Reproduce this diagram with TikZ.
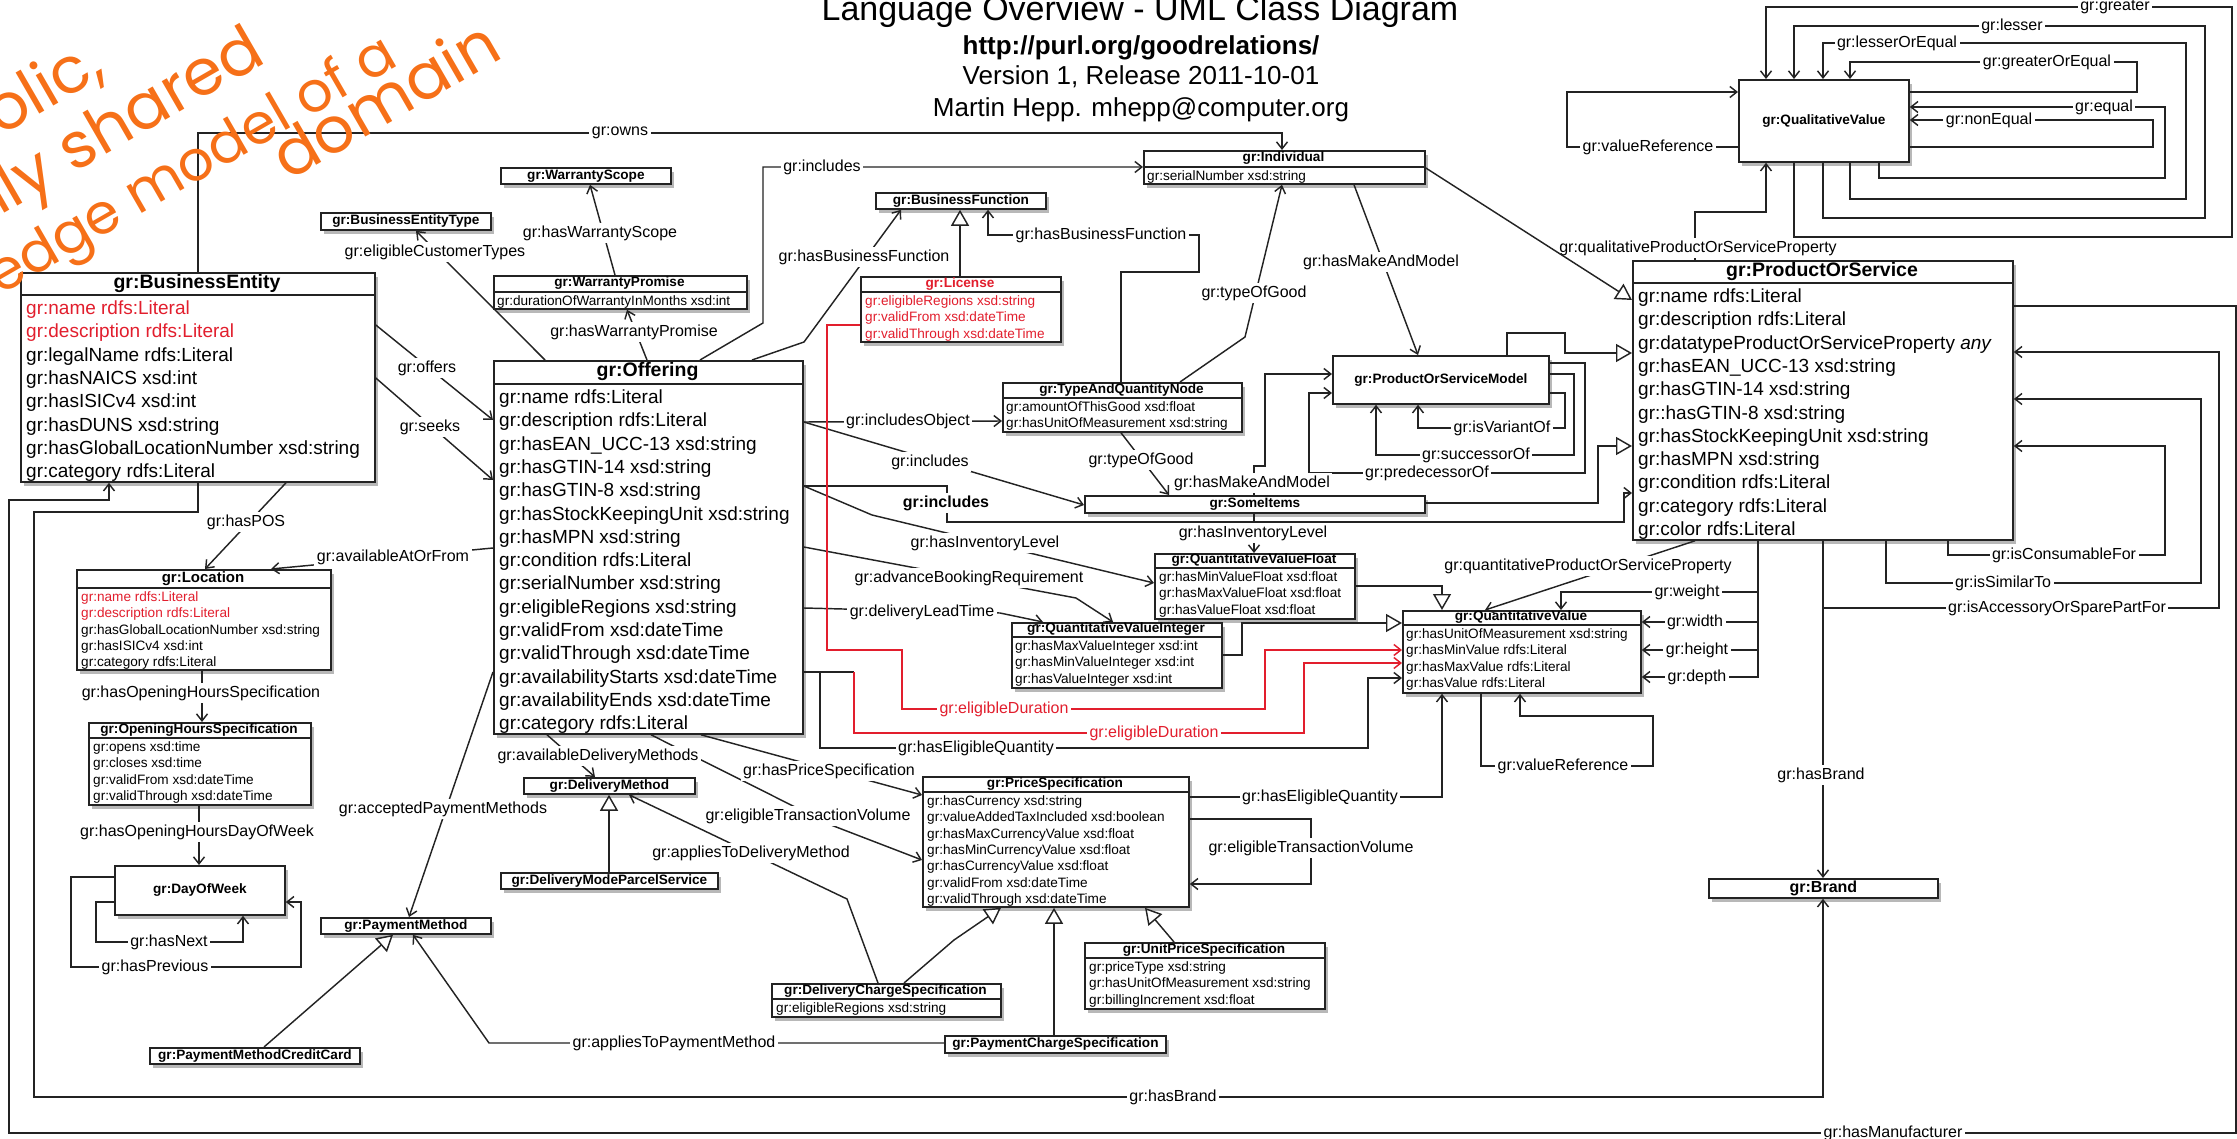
\documentclass[tikz,border=0pt]{standalone}
\usepackage{fontspec}
\setmainfont{Liberation Sans}
\newfontfamily\handfont{Poppins}
\usetikzlibrary{arrows.meta, shadows}
\definecolor{GrRed}{RGB}{226,30,45}
\definecolor{GrLine}{RGB}{35,35,35}
\definecolor{HandOrange}{RGB}{246,112,24}

\begin{document}
\begin{tikzpicture}[
  x=1pt, y=-1pt,
  box/.style={draw=GrLine, line width=1.8pt, fill=white, anchor=north west, inner sep=0pt,
    drop shadow={shadow xshift=3pt, shadow yshift=-4pt, fill=black, opacity=0.28}},
  ttl/.style={font=\bfseries\fontsize{13.6}{16}\selectfont},
  bigttl/.style={font=\bfseries\fontsize{19.5}{23}\selectfont, inner sep=0pt},
  attr/.style={font=\fontsize{13.6}{16.3}\selectfont, align=left, anchor=north west, inner sep=0pt},
  bigattr/.style={font=\fontsize{19}{23.3}\selectfont, align=left, anchor=north west, inner sep=0pt},
  sep/.style={draw=GrLine, line width=1.5pt},
  lbl/.style={fill=white, inner sep=2.5pt, font=\fontsize{16}{19}\selectfont},
  link/.style={draw=GrLine, line width=1.45pt},
  assoc/.style={link, -{Straight Barb[length=7pt, width=11pt]}},
  inherit/.style={link, -{Triangle[length=16pt, width=18pt, fill=white]}},
  redassoc/.style={assoc, draw=GrRed},
  hand/.style={anchor=base west, rotate=30, inner sep=0pt, text=HandOrange,
    font=\handfont\fontsize{64}{66}\selectfont},
]
\useasboundingbox (0,0) rectangle (2237,1139);

% Title
\node[font=\fontsize{34}{40}\selectfont, anchor=base] (title) at (1140,21) {Language Overview - UML Class Diagram};
\node[font=\bfseries\fontsize{26}{30}\selectfont, anchor=base] (url) at (1141,55) {http://purl.org/goodrelations/};
\node[font=\fontsize{26}{30}\selectfont, anchor=base] (version) at (1141,85) {Version 1, Release 2011-10-01};
\node[font=\fontsize{26}{30}\selectfont, anchor=base] (author) at (1141,117) {Martin Hepp. mhepp@computer.org};

% Big classes
\node[box, minimum width=354pt, minimum height=209pt] (be) at (20,272) {};
\node[bigttl] (be-t) at (197,283.5) {gr:BusinessEntity};
\draw[sep] (be.west |- 0,295) -- (be.east |- 0,295);
\node[bigattr] (be-a) at (26,298) {\strut\textcolor{GrRed}{gr:name rdfs:Literal}\\ \textcolor{GrRed}{gr:description rdfs:Literal}\\
  gr:legalName rdfs:Literal\\ gr:hasNAICS xsd:int\\ gr:hasISICv4 xsd:int\\ gr:hasDUNS xsd:string\\
  gr:hasGlobalLocationNumber xsd:string\\ gr:category rdfs:Literal};

\node[box, minimum width=309pt, minimum height=373pt] (off) at (493,360) {};
\node[bigttl] (off-t) at (647.5,372) {gr:Offering};
\draw[sep] (off.west |- 0,384) -- (off.east |- 0,384);
\node[bigattr] (off-a) at (499,387) {\strut gr:name rdfs:Literal\\ gr:description rdfs:Literal\\ gr:hasEAN\_UCC-13 xsd:string\\
  gr:hasGTIN-14 xsd:string\\ gr:hasGTIN-8 xsd:string\\ gr:hasStockKeepingUnit xsd:string\\ gr:hasMPN xsd:string\\
  gr:condition rdfs:Literal\\ gr:serialNumber xsd:string\\ gr:eligibleRegions xsd:string\\ gr:validFrom xsd:dateTime\\
  gr:validThrough xsd:dateTime\\ gr:availabilityStarts xsd:dateTime\\ gr:availabilityEnds xsd:dateTime\\ gr:category rdfs:Literal};

\node[box, minimum width=380pt, minimum height=279pt] (pos) at (1632,260) {};
\node[bigttl] (pos-t) at (1822,271.5) {gr:ProductOrService};
\draw[sep] (pos.west |- 0,283) -- (pos.east |- 0,283);
\node[bigattr] (pos-a) at (1638,286) {\strut gr:name rdfs:Literal\\ gr:description rdfs:Literal\\
  gr:datatypeProductOrServiceProperty \textit{any}\\ gr:hasEAN\_UCC-13 xsd:string\\ gr:hasGTIN-14 xsd:string\\
  gr::hasGTIN-8 xsd:string\\ gr:hasStockKeepingUnit xsd:string\\ gr:hasMPN xsd:string\\ gr:condition rdfs:Literal\\
  gr:category rdfs:Literal\\ gr:color rdfs:Literal};

% Small classes with attributes
\node[box, minimum width=281pt, minimum height=33pt] (ind) at (1143,150) {};
\node[ttl] (ind-t) at (1283.5,158.5) {gr:Individual};
\draw[sep] (ind.west |- 0,167) -- (ind.east |- 0,167);
\node[attr] (ind-a) at (1147,169) {\strut gr:serialNumber xsd:string};

\node[box, minimum width=253pt, minimum height=33pt] (wp) at (493,275) {};
\node[ttl] (wp-t) at (619.5,283.5) {gr:WarrantyPromise};
\draw[sep] (wp.west |- 0,292) -- (wp.east |- 0,292);
\node[attr] (wp-a) at (497,294) {\strut gr:durationOfWarrantyInMonths xsd:int};

\node[box, minimum width=200pt, minimum height=65pt] (lic) at (860,276) {};
\node[ttl, text=GrRed] (lic-t) at (960,284) {gr:License};
\draw[sep] (lic.west |- 0,292) -- (lic.east |- 0,292);
\node[attr, text=GrRed] (lic-a) at (865,294) {\strut gr:eligibleRegions xsd:string\\ gr:validFrom xsd:dateTime\\ gr:validThrough xsd:dateTime};

\node[box, minimum width=239pt, minimum height=49pt] (taqn) at (1002,382) {};
\node[ttl] (taqn-t) at (1121.5,390) {gr:TypeAndQuantityNode};
\draw[sep] (taqn.west |- 0,398) -- (taqn.east |- 0,398);
\node[attr] (taqn-a) at (1006,400) {\strut gr:amountOfThisGood xsd:float\\ gr:hasUnitOfMeasurement xsd:string};

\node[box, minimum width=200pt, minimum height=65pt] (qvf) at (1154,553) {};
\node[ttl] (qvf-t) at (1254,560.5) {gr:QuantitativeValueFloat};
\draw[sep] (qvf.west |- 0,568) -- (qvf.east |- 0,568);
\node[attr] (qvf-a) at (1159,570) {\strut gr:hasMinValueFloat xsd:float\\ gr:hasMaxValueFloat xsd:float\\ gr:hasValueFloat xsd:float};

\node[box, minimum width=210pt, minimum height=65pt] (qvi) at (1011,622) {};
\node[ttl] (qvi-t) at (1116,629.5) {gr:QuantitativeValueInteger};
\draw[sep] (qvi.west |- 0,637) -- (qvi.east |- 0,637);
\node[attr] (qvi-a) at (1015,639) {\strut gr:hasMaxValueInteger xsd:int\\ gr:hasMinValueInteger xsd:int\\ gr:hasValueInteger xsd:int};

\node[box, minimum width=238pt, minimum height=82pt] (qv) at (1402,610) {};
\node[ttl] (qv-t) at (1521,617.5) {gr:QuantitativeValue};
\draw[sep] (qv.west |- 0,625) -- (qv.east |- 0,625);
\node[attr] (qv-a) at (1406,627) {\strut gr:hasUnitOfMeasurement xsd:string\\ gr:hasMinValue rdfs:Literal\\ gr:hasMaxValue rdfs:Literal\\ gr:hasValue rdfs:Literal};

\node[box, minimum width=254pt, minimum height=100pt] (loc) at (76,569) {};
\node[ttl, font=\bfseries\fontsize{15}{17}\selectfont] (loc-t) at (203,578.5) {gr:Location};
\draw[sep] (loc.west |- 0,588) -- (loc.east |- 0,588);
\node[attr] (loc-a) at (81,590) {\strut\textcolor{GrRed}{gr:name rdfs:Literal}\\ \textcolor{GrRed}{gr:description rdfs:Literal}\\
  gr:hasGlobalLocationNumber xsd:string\\ gr:hasISICv4 xsd:int\\ gr:category rdfs:Literal};

\node[box, minimum width=222pt, minimum height=82pt] (ohs) at (88,722) {};
\node[ttl] (ohs-t) at (199,730) {gr:OpeningHoursSpecification};
\draw[sep] (ohs.west |- 0,738) -- (ohs.east |- 0,738);
\node[attr] (ohs-a) at (93,740) {\strut gr:opens xsd:time\\ gr:closes xsd:time\\ gr:validFrom xsd:dateTime\\ gr:validThrough xsd:dateTime};

\node[box, minimum width=266pt, minimum height=130pt] (ps) at (922,776) {};
\node[ttl] (ps-t) at (1055,784) {gr:PriceSpecification};
\draw[sep] (ps.west |- 0,792) -- (ps.east |- 0,792);
\node[attr] (ps-a) at (927,794) {\strut gr:hasCurrency xsd:string\\ gr:valueAddedTaxIncluded xsd:boolean\\ gr:hasMaxCurrencyValue xsd:float\\
  gr:hasMinCurrencyValue xsd:float\\ gr:hasCurrencyValue xsd:float\\ gr:validFrom xsd:dateTime\\ gr:validThrough xsd:dateTime};

\node[box, minimum width=240pt, minimum height=66pt] (ups) at (1084,942) {};
\node[ttl] (ups-t) at (1204,950) {gr:UnitPriceSpecification};
\draw[sep] (ups.west |- 0,958) -- (ups.east |- 0,958);
\node[attr] (ups-a) at (1089,960) {\strut gr:priceType xsd:string\\ gr:hasUnitOfMeasurement xsd:string\\ gr:billingIncrement xsd:float};

\node[box, minimum width=229pt, minimum height=33pt] (dcs) at (771,983) {};
\node[ttl] (dcs-t) at (885.5,991) {gr:DeliveryChargeSpecification};
\draw[sep] (dcs.west |- 0,999) -- (dcs.east |- 0,999);
\node[attr] (dcs-a) at (776,1001) {\strut gr:eligibleRegions xsd:string};

% Classes without attributes
\node[box, ttl, minimum width=170pt, minimum height=17pt] (bet) at (320,212) {gr:BusinessEntityType};
\node[box, ttl, minimum width=170pt, minimum height=16pt] (ws) at (500,167) {gr:WarrantyScope};
\node[box, ttl, minimum width=170pt, minimum height=16pt] (bf) at (875,192) {gr:BusinessFunction};
\node[box, ttl, minimum width=340pt, minimum height=17pt] (si) at (1084,495) {gr:SomeItems};
\node[box, ttl, minimum width=171pt, minimum height=16pt] (dm) at (523,777) {gr:DeliveryMethod};
\node[box, ttl, minimum width=217pt, minimum height=16pt] (dmps) at (500,872) {gr:DeliveryModeParcelService};
\node[box, ttl, minimum width=170pt, minimum height=16pt] (pm) at (320,917) {gr:PaymentMethod};
\node[box, ttl, minimum width=210pt, minimum height=16pt] (pmcc) at (149,1047) {gr:PaymentMethodCreditCard};
\node[box, ttl, minimum width=221pt, minimum height=17pt] (pcs) at (944,1035) {gr:PaymentChargeSpecification};
\node[box, ttl, font=\bfseries\fontsize{16}{18}\selectfont, minimum width=229pt, minimum height=19pt] (brand) at (1708,878) {gr:Brand};
\node[box, ttl, minimum width=170pt, minimum height=82pt] (qlv) at (1738,79) {gr:QualitativeValue};
\node[box, ttl, minimum width=170pt, minimum height=49pt] (dow) at (114,865) {gr:DayOfWeek};
\node[box, ttl, minimum width=216pt, minimum height=48pt] (psm) at (1332,355) {gr:ProductOrServiceModel};

% Connectors: top area
\draw[assoc] (be.north -| 198,0) -- (198,133) -- (1282,133) -- (ind.north -| 1282,0);
\draw[assoc] (off.north -| 700,0) -- (763,323) -- (763,167) -- (ind.west |- 0,167);
\draw[assoc] (off.north -| 545,0) -- (bet.south -| 416,0);
\draw[assoc] (off.north -| 647,0) -- (wp.south -| 627,0);
\draw[assoc] (wp.north -| 615,0) -- (ws.south -| 590,0);
\draw[assoc] (off.north -| 752,0) -- (804,342) -- (bf.south -| 901,0);
\draw[inherit] (lic.north -| 960,0) -- (bf.south -| 960,0);
\draw[assoc] (taqn.north -| 1121,0) -- (1121,272) -- (1199,272) -- (1199,235) -- (988,235) -- (bf.south -| 988,0);
\draw[assoc] (ind.south -| 1354,0) -- (psm.north -| 1418,0);
\draw[assoc] (taqn.north -| 1180,0) -- (1245,337) -- (ind.south -| 1282,0);
\draw[assoc] (pos.north -| 1695,0) -- (1695,212) -- (1766,212) -- (qlv.south -| 1766,0);

% Connectors: product models and items
\draw[inherit] (psm.north -| 1507,0) -- (1507,333) -- (1565,333) -- (1565,353) -- (pos.west |- 0,353);
\draw[inherit] (si.east |- 0,503) -- (1598,503) -- (1598,446) -- (pos.west |- 0,446);
\draw[assoc] (off.east |- 0,486) -- (947,486) -- (947,522) -- (1624,522) -- (1624,493) -- (pos.west |- 0,493);
\draw[assoc] (off.east |- 0,422) -- (si.west |- 0,505);
\draw[assoc] (off.east |- 0,422) -- (taqn.west |- 0,421);
\draw[assoc] (taqn.south -| 1121,0) -- (si.north -| 1169,0);
\draw[assoc] (si.north -| 1254,0) -- (1254,466) -- (1265,466) -- (1265,374) -- (psm.west |- 0,374);
\draw[assoc] (psm.east |- 0,363) -- (1585,363) -- (1585,473) -- (1309,473) -- (1309,393) -- (psm.west |- 0,393);
\draw[assoc] (psm.east |- 0,374) -- (1574,374) -- (1574,455) -- (1376,455) -- (psm.south -| 1376,0);
\draw[assoc] (psm.east |- 0,393) -- (1565,393) -- (1565,428) -- (1418,428) -- (psm.south -| 1418,0);

% Connectors: quantitative values
\draw[assoc] (si.south -| 1254,0) -- (qvf.north -| 1254,0);
\draw[assoc] (off.east |- 0,486) -- (872,515) -- (qvf.west |- 0,583);
\draw[assoc] (off.east |- 0,547) -- (1076,598) -- (qvi.north -| 1113,0);
\draw[assoc] (off.east |- 0,608) -- (1000,613) -- (qvi.north -| 1043,0);
\draw[inherit] (qvf.east |- 0,586) -- (1442,586) -- (qv.north -| 1442,0);
\draw[inherit] (qvi.east |- 0,655) -- (1242,655) -- (1242,623) -- (qv.west |- 0,623);
\draw[redassoc] (lic.west |- 0,325) -- (827,325) -- (827,650) -- (902,650) -- (902,709) -- (1265,709) -- (1265,650) -- (qv.west |- 0,650);
\coordinate (ed2) at (854,672);
\draw[link] (off.east |- 0,672) -- (ed2);
\draw[redassoc] (ed2) -- (854,733) -- (1304,733) -- (1304,663) -- (qv.west |- 0,663);
\draw[assoc] (off.east |- 0,672) -- (820,672) -- (820,748) -- (1368,748) -- (1368,678) -- (qv.west |- 0,678);
\draw[assoc] (ps.east |- 0,797) -- (1442,797) -- (qv.south -| 1442,0);
\draw[assoc] (qv.south -| 1481,0) -- (1481,766) -- (1653,766) -- (1653,716) -- (1520,716) -- (qv.south -| 1520,0);
\draw[assoc] (pos.south -| 1695,0) -- (qv.north -| 1485,0);
\draw[assoc] (pos.south -| 1758,0) -- (1758,592) -- (1561,592) -- (qv.north -| 1561,0);
\draw[assoc] (pos.south -| 1758,0) -- (1758,622) -- (qv.east |- 0,622);
\draw[assoc] (pos.south -| 1758,0) -- (1758,650) -- (qv.east |- 0,650);
\draw[assoc] (pos.south -| 1758,0) -- (1758,677) -- (qv.east |- 0,677);

% Connectors: product relations, brand, manufacturer
\draw[assoc] (pos.south -| 1948,0) -- (1948,555) -- (2165,555) -- (2165,446) -- (pos.east |- 0,446);
\draw[assoc] (pos.south -| 1886,0) -- (1886,583) -- (2201,583) -- (2201,399) -- (pos.east |- 0,399);
\draw[assoc] (pos.south -| 1823,0) -- (1823,608) -- (2219,608) -- (2219,352) -- (pos.east |- 0,352);
\draw[assoc] (pos.south -| 1823,0) -- (brand.north -| 1823,0);
\draw[assoc] (be.south -| 198,0) -- (198,512) -- (34,512) -- (34,1097) -- (1823,1097) -- (brand.south -| 1823,0);
\draw[assoc] (pos.east |- 0,306) -- (2236,306) -- (2236,1133) -- (9,1133) -- (9,500) -- (109,500) -- (be.south -| 109,0);

% Connectors: qualitative value loops
\draw[assoc] (qlv.south -| 1794,0) -- (1794,237) -- (2232,237) -- (2232,7) -- (1766,7) -- (qlv.north -| 1766,0);
\draw[assoc] (qlv.south -| 1823,0) -- (1823,218) -- (2205,218) -- (2205,26) -- (1794,26) -- (qlv.north -| 1794,0);
\draw[assoc] (qlv.south -| 1850,0) -- (1850,199) -- (2186,199) -- (2186,43) -- (1823,43) -- (qlv.north -| 1823,0);
\draw[assoc] (qlv.east |- 0,92) -- (2137,92) -- (2137,62) -- (1850,62) -- (qlv.north -| 1850,0);
\draw[assoc] (qlv.south -| 1879,0) -- (1879,178) -- (2165,178) -- (2165,107) -- (qlv.east |- 0,107);
\draw[assoc] (qlv.east |- 0,147) -- (2153,147) -- (2153,120) -- (qlv.east |- 0,120);
\draw[assoc] (qlv.west |- 0,147) -- (1567,147) -- (1567,92) -- (qlv.west |- 0,92);

% Connectors: left and bottom area
\draw[assoc] (be.east |- 0,325) -- (off.west |- 0,420);
\draw[assoc] (be.east |- 0,378) -- (off.west |- 0,480);
\draw[assoc] (be.south -| 286,0) -- (loc.north -| 205,0);
\draw[assoc] (off.west |- 0,548) -- (loc.north -| 271,0);
\draw[assoc] (loc.south -| 202,0) -- (ohs.north -| 202,0);
\draw[assoc] (ohs.south -| 199,0) -- (dow.north -| 199,0);
\draw[assoc] (dow.west |- 0,902) -- (96,902) -- (96,942) -- (243,942) -- (dow.south -| 243,0);
\draw[assoc] (dow.west |- 0,877) -- (71,877) -- (71,967) -- (301,967) -- (301,902) -- (dow.east |- 0,902);
\draw[assoc] (off.west |- 0,672) -- (pm.north -| 409,0);
\draw[inherit] (pmcc.north -| 264,0) -- (pm.south -| 393,0);
\draw[assoc] (pcs.west |- 0,1043) -- (489,1043) -- (pm.south -| 413,0);
\draw[assoc] (off.south -| 547,0) -- (dm.north -| 595,0);
\draw[inherit] (dmps.north -| 609,0) -- (dm.south -| 609,0);
\draw[assoc] (dcs.north -| 878,0) -- (847,899) -- (dm.south -| 629,0);
\draw[assoc] (off.south -| 651,0) -- (831,825) -- (ps.west |- 0,860);
\draw[assoc] (off.south -| 701,0) -- (ps.west |- 0,795);
\draw[assoc] (ps.east |- 0,819) -- (1311,819) -- (1311,884) -- (ps.east |- 0,884);
\draw[inherit] (ups.north -| 1174,0) -- (ps.south -| 1145,0);
\draw[inherit] (dcs.north -| 904,0) -- (954,940) -- (ps.south -| 1001,0);
\draw[inherit] (pcs.north -| 1054,0) -- (ps.south -| 1054,0);

% Labels
\node[lbl] (l-owns) at (620,133) {gr:owns};
\node[lbl] (l-incl1) at (822,167) {gr:includes};
\node[lbl] (l-ect) at (435,252) {gr:eligibleCustomerTypes};
\node[lbl] (l-hws) at (600,233) {gr:hasWarrantyScope};
\node[lbl] (l-hwp) at (634,332) {gr:hasWarrantyPromise};
\node[lbl] (l-hbf1) at (864,257) {gr:hasBusinessFunction};
\node[lbl] (l-hbf2) at (1101,235) {gr:hasBusinessFunction};
\node[lbl] (l-tog1) at (1254,293) {gr:typeOfGood};
\node[lbl] (l-hmm1) at (1381,262) {gr:hasMakeAndModel};
\node[lbl] (l-qlp) at (1698,248) {gr:qualitativeProductOrServiceProperty};
\node[lbl] (l-vref1) at (1648,147) {gr:valueReference};
\node[lbl] (l-gt) at (2115,7) {gr:greater};
\node[lbl] (l-lt) at (2012,26) {gr:lesser};
\node[lbl] (l-le) at (1897,43) {gr:lesserOrEqual};
\node[lbl] (l-ge) at (2047,62) {gr:greaterOrEqual};
\node[lbl] (l-eq) at (2104,107) {gr:equal};
\node[lbl] (l-ne) at (1989,120) {gr:nonEqual};
\node[lbl] (l-offers) at (427,368) {gr:offers};
\node[lbl] (l-seeks) at (430,427) {gr:seeks};
\node[lbl] (l-incobj) at (908,421) {gr:includesObject};
\node[lbl] (l-incl2) at (930,462) {gr:includes};
\node[lbl, font=\bfseries\fontsize{16}{19}\selectfont] (l-incl3) at (946,503) {gr:includes};
\node[lbl] (l-tog2) at (1141,460) {gr:typeOfGood};
\node[lbl] (l-hmm2) at (1252,483) {gr:hasMakeAndModel};
\node[lbl] (l-var) at (1502,428) {gr:isVariantOf};
\node[lbl] (l-succ) at (1476,455) {gr:successorOf};
\node[lbl] (l-pred) at (1427,473) {gr:predecessorOf};
\node[lbl] (l-inv1) at (1253,533) {gr:hasInventoryLevel};
\node[lbl] (l-inv2) at (985,543) {gr:hasInventoryLevel};
\node[lbl] (l-abr) at (969,578) {gr:advanceBookingRequirement};
\node[lbl] (l-dlt) at (922,612) {gr:deliveryLeadTime};
\node[lbl, text=GrRed] (l-ed1) at (1004,709) {gr:eligibleDuration};
\node[lbl, text=GrRed] (l-ed2) at (1154,733) {gr:eligibleDuration};
\node[lbl] (l-heq1) at (976,748) {gr:hasEligibleQuantity};
\node[lbl] (l-heq2) at (1320,797) {gr:hasEligibleQuantity};
\node[lbl] (l-vref2) at (1563,766) {gr:valueReference};
\node[lbl] (l-qnp) at (1588,566) {gr:quantitativeProductOrServiceProperty};
\node[lbl] (l-weight) at (1687,592) {gr:weight};
\node[lbl] (l-width) at (1695,622) {gr:width};
\node[lbl] (l-height) at (1697,650) {gr:height};
\node[lbl] (l-depth) at (1697,677) {gr:depth};
\node[lbl] (l-cons) at (2064,555) {gr:isConsumableFor};
\node[lbl] (l-sim) at (2003,583) {gr:isSimilarTo};
\node[lbl] (l-acc) at (2057,608) {gr:isAccessoryOrSparePartFor};
\node[lbl] (l-brand1) at (1821,775) {gr:hasBrand};
\node[lbl] (l-brand2) at (1173,1097) {gr:hasBrand};
\node[lbl] (l-manu) at (1893,1133) {gr:hasManufacturer};
\node[lbl] (l-pos) at (246,522) {gr:hasPOS};
\node[lbl] (l-aaf) at (393,557) {gr:availableAtOrFrom};
\node[lbl] (l-ohs) at (201,693) {gr:hasOpeningHoursSpecification};
\node[lbl] (l-dow) at (197,832) {gr:hasOpeningHoursDayOfWeek};
\node[lbl] (l-next) at (169,942) {gr:hasNext};
\node[lbl] (l-prev) at (155,967) {gr:hasPrevious};
\node[lbl] (l-apm) at (443,809) {gr:acceptedPaymentMethods};
\node[lbl] (l-adm) at (598,756) {gr:availableDeliveryMethods};
\node[lbl] (l-adm2) at (751,853) {gr:appliesToDeliveryMethod};
\node[lbl] (l-etv1) at (808,816) {gr:eligibleTransactionVolume};
\node[lbl] (l-hps) at (829,771) {gr:hasPriceSpecification};
\node[lbl] (l-etv2) at (1311,848) {gr:eligibleTransactionVolume};
\node[lbl] (l-atpm) at (674,1043) {gr:appliesToPaymentMethod};

% Individual is a ProductOrService
\draw[inherit] (ind.east |- 0,168) -- (pos.west |- 0,300);

% Handwritten note
\node[hand] (hw1) at (0,137) {olic,};
\node[hand] (hw2) at (0,216) {lly shared};
\node[hand, font=\handfont\fontsize{56}{58}\selectfont] (hw3) at (0,296) {edge model of a};
\node[hand] (hw4) at (288,182) {domain};
\end{tikzpicture}
\end{document}
